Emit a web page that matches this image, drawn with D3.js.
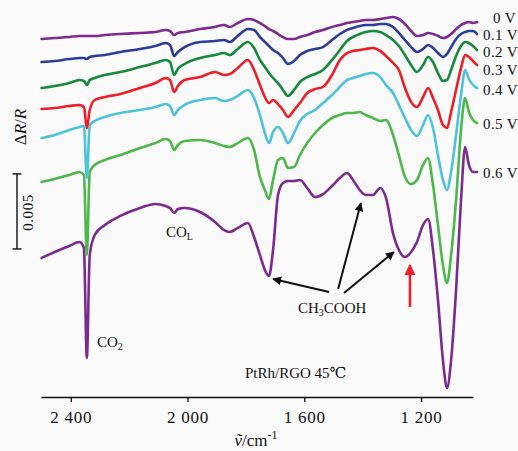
<!DOCTYPE html>
<html><head><meta charset="utf-8">
<script src="https://cdn.jsdelivr.net/npm/d3@7/dist/d3.min.js"></script>
<style>
html,body{margin:0;padding:0;background:#fafafa;}
svg{display:block;}
text{font-family:"Liberation Serif","Times New Roman","DejaVu Serif",serif;fill:#111;}
</style></head><body>
<svg id="chart" width="518" height="451"></svg>
<script>
// Wavenumber grid (cm^-1) shared by all spectra
const wavenumbers = [2500,2455,2405,2370,2355,2345,2335,2318,2283,2230,2163,2110,2075,2060,2046,2033,2010,1957,1906,1875,1855,1828,1793,1772,1752,1735,1721,1707,1690,1673,1656,1635,1615,1590,1563,1536,1505,1478,1454,1433,1410,1390,1365,1340,1320,1296,1276,1255,1234,1214,1193,1176,1159,1142,1125,1111,1097,1080,1063,1049,1036,1022,1008];

// Potentials
const potentials = ["0 V","0.1 V","0.2 V","0.3 V","0.4 V","0.5 V","0.6 V"];

// Stacked ΔR/R spectra, in units of 1e-3
const dr0V  = [23.87,23.93,24.00,24.07,24.07,24.07,24.07,24.07,24.13,24.20,24.27,24.33,24.47,24.40,24.13,24.27,24.33,24.53,24.67,24.80,24.67,24.93,25.20,25.13,24.93,24.73,24.53,24.40,24.20,24.00,23.87,23.87,24.00,24.13,24.33,24.47,24.67,24.80,24.93,25.00,25.07,25.13,25.13,25.20,25.27,25.33,25.20,24.87,24.40,24.07,24.13,24.27,24.20,24.07,23.93,24.00,24.20,24.53,24.80,24.93,25.00,24.93,25.00];
const dr01V = [22.33,22.40,22.53,22.60,22.60,22.53,22.67,22.73,22.80,23.00,23.20,23.40,23.60,23.47,22.73,23.00,23.33,23.67,23.73,23.80,23.67,24.07,24.53,24.47,24.00,23.67,23.40,23.13,22.93,22.60,22.20,22.40,22.80,23.07,23.20,23.33,23.80,24.20,24.47,24.60,24.73,24.80,24.80,24.87,24.87,24.67,24.27,23.80,23.33,23.00,23.20,23.47,23.27,22.93,22.67,22.87,23.33,23.87,24.20,24.33,24.40,24.40,24.20];
const dr02V = [20.60,20.73,20.93,21.13,21.07,20.80,21.13,21.27,21.47,21.67,22.00,22.27,22.47,22.33,21.47,21.87,22.20,22.60,22.80,22.93,22.80,23.20,23.67,23.27,22.47,22.00,21.60,21.27,20.93,20.47,20.07,20.47,21.00,21.33,21.53,21.80,22.47,23.13,23.73,24.00,24.20,24.33,24.40,24.33,24.13,23.80,23.40,22.80,22.13,21.67,22.13,22.67,22.33,21.60,21.07,21.13,21.80,22.73,23.40,23.67,23.60,23.40,23.13];
const dr03V = [19.20,19.27,19.40,19.47,19.33,17.93,19.13,19.80,20.00,20.20,20.60,20.93,21.27,21.13,20.33,20.73,21.13,21.33,21.67,21.47,21.53,21.93,22.47,21.80,20.80,20.00,19.60,19.80,19.53,19.13,18.67,19.13,19.60,20.27,20.53,20.67,21.47,22.47,22.93,23.07,23.13,23.20,23.27,23.07,22.73,22.27,21.80,20.60,19.67,19.33,20.00,20.60,19.93,19.13,18.13,17.93,19.00,20.47,21.93,22.80,22.67,22.40,22.13];
const dr04V = [17.27,17.47,17.80,18.00,18.07,14.60,18.13,18.40,18.67,18.93,19.13,19.33,19.53,19.40,18.80,19.13,19.47,19.80,19.93,19.73,19.80,20.07,20.47,19.93,18.80,17.60,16.93,17.67,18.00,17.60,16.93,17.60,18.40,18.87,19.13,19.60,20.13,20.67,21.13,21.27,21.40,21.53,21.60,21.33,20.80,20.27,19.47,18.60,17.80,17.40,18.13,18.80,17.93,16.13,14.47,13.80,15.00,17.47,20.13,21.80,21.20,20.80,20.60];
const dr05V = [14.33,14.53,14.80,15.00,14.80,9.47,15.00,15.47,15.80,16.13,16.60,16.93,17.20,17.07,16.47,16.80,17.07,17.13,16.93,16.73,16.67,16.93,17.27,16.47,14.67,13.80,13.20,14.47,15.80,15.93,15.27,15.33,16.13,16.93,17.60,18.13,18.60,18.80,18.93,18.93,19.00,18.80,18.60,18.40,18.47,17.47,16.13,14.67,14.20,14.47,15.47,15.93,14.13,11.47,8.80,7.60,9.47,13.13,17.80,19.93,19.00,18.47,18.27];
const dr06V = [9.27,9.67,10.07,10.33,9.93,2.60,9.47,10.80,11.47,12.07,12.60,12.87,12.73,12.60,12.27,12.53,12.60,12.33,11.67,11.13,11.00,11.27,11.60,10.67,9.47,8.47,8.07,9.80,13.47,14.27,14.40,14.40,14.47,13.93,13.33,13.53,14.07,14.60,14.93,14.47,13.80,13.47,13.47,13.93,13.27,10.93,9.80,9.33,9.67,10.33,11.47,11.87,9.80,6.47,2.47,0.60,2.47,7.13,13.13,16.67,15.47,15.00,15.00];

const seriesValues = [dr0V, dr01V, dr02V, dr03V, dr04V, dr05V, dr06V];
const seriesColors = ["#7d2b8f","#2c3b9c","#158a3c","#ee1d26","#4cc2dc","#4db749","#7b2a8e"];

const xTicks = [2400, 2000, 1600, 1200];
const scaleBarBase = 9.87, scaleBarSpan = 5;   // 0.005 = 5 ×1e-3

// Annotation arrows: [from wavenumber, from value, to wavenumber, to value]
const acidArrows = [[1515, 7.0, 1707, 7.87],[1484, 7.2, 1406, 12.93],[1464, 6.93, 1293, 9.67]];
const markerArrow = [1238, 6.0, 1238, 8.8];

const svg = d3.select("#chart");
const x = d3.scaleLinear().domain([2502, 1022]).range([41, 473]);
const y = d3.scaleLinear().domain([0, 25.6]).range([397, 13]);

svg.append("rect").attr("width", 518).attr("height", 451).attr("fill", "#fafafa");

// Spectra, drawn bottom-up so upper traces sit on top
const line = d3.line().x((d, i) => x(wavenumbers[i])).y(d => y(d)).curve(d3.curveMonotoneX);
const order = d3.range(seriesValues.length).reverse();
svg.append("g").selectAll("path").data(order).join("path")
  .attr("d", i => line(seriesValues[i]))
  .attr("fill", "none")
  .attr("stroke", i => seriesColors[i])
  .attr("stroke-width", 2.6)
  .attr("stroke-linejoin", "round")
  .attr("stroke-linecap", "round");

// Potential labels
const labelPos = [[493, 23], [483, 40], [483, 57], [483, 75], [483, 95], [483, 129], [483, 178]];
svg.append("g").selectAll("text").data(potentials).join("text")
  .attr("x", (d, i) => labelPos[i][0]).attr("y", (d, i) => labelPos[i][1])
  .attr("font-size", 15).attr("letter-spacing", 0.4).text(d => d);

// X axis
const xAxis = d3.axisBottom(x).tickValues(xTicks).tickSize(5).tickSizeOuter(0).tickPadding(9)
  .tickFormat(d => d3.format(",")(d).replace(",", " "));
const gx = svg.append("g").attr("transform", "translate(0,397)").call(xAxis);
gx.select(".domain").attr("stroke", "#111").attr("stroke-width", 1.3);
gx.selectAll(".tick line").attr("stroke", "#111").attr("stroke-width", 1.3);
gx.selectAll(".tick text").attr("font-size", 17).attr("font-family", "Liberation Serif, serif")
  .attr("fill", "#111").attr("letter-spacing", 0.8);

// X axis title
const xt = svg.append("text").attr("x", 256).attr("y", 446).attr("text-anchor", "middle").attr("font-size", 17);
xt.append("tspan").attr("font-style", "italic").text("ṽ");
xt.append("tspan").text("/cm");
xt.append("tspan").attr("font-size", 12).attr("dy", -7).text("-1");

// Y label
const yl = svg.append("text").attr("transform", "translate(26,127) rotate(-90)").attr("text-anchor", "middle").attr("font-size", 17);
yl.append("tspan").text("Δ");
yl.append("tspan").attr("font-style", "italic").text("R");
yl.append("tspan").text("/");
yl.append("tspan").attr("font-style", "italic").text("R");

// Scale bar
const sb = svg.append("g").attr("stroke", "#111").attr("stroke-width", 1.4);
sb.append("line").attr("x1", 17).attr("x2", 17).attr("y1", y(scaleBarBase)).attr("y2", y(scaleBarBase + scaleBarSpan));
sb.append("line").attr("x1", 12.5).attr("x2", 21.5).attr("y1", y(scaleBarBase)).attr("y2", y(scaleBarBase));
sb.append("line").attr("x1", 12.5).attr("x2", 21.5).attr("y1", y(scaleBarBase + scaleBarSpan)).attr("y2", y(scaleBarBase + scaleBarSpan));
svg.append("text").attr("transform", `translate(33,${y(scaleBarBase + scaleBarSpan / 2) + 1}) rotate(-90)`)
  .attr("text-anchor", "middle").attr("font-size", 15).attr("letter-spacing", 0.6).text("0.005");

// Band labels
function subLabel(px, py, main, sub, extra) {
  const t = svg.append("text").attr("x", px).attr("y", py).attr("font-size", 15);
  t.append("tspan").text(main);
  t.append("tspan").attr("font-size", 10).attr("dy", 3).text(sub);
  if (extra) t.append("tspan").attr("dy", -3).text(extra);
  return t;
}
subLabel(166, 237, "CO", "L");
subLabel(97, 347, "CO", "2");
subLabel(298, 313, "CH", "3", "COOH");
svg.append("text").attr("x", 245).attr("y", 378).attr("font-size", 15).text("PtRh/RGO 45℃");

// Arrows
const defs = svg.append("defs");
function marker(id, color) {
  defs.append("marker").attr("id", id).attr("viewBox", "0 0 10 10").attr("refX", 9).attr("refY", 5)
    .attr("markerWidth", 4.5).attr("markerHeight", 4.5).attr("orient", "auto")
    .append("path").attr("d", "M0,0L10,5L0,10Z").attr("fill", color);
}
marker("ah-black", "#111");
marker("ah-red", "#ee1d26");
svg.append("g").selectAll("line").data(acidArrows).join("line")
  .attr("x1", d => x(d[0])).attr("y1", d => y(d[1]))
  .attr("x2", d => x(d[2])).attr("y2", d => y(d[3]))
  .attr("stroke", "#111").attr("stroke-width", 2).attr("marker-end", "url(#ah-black)");
svg.append("line")
  .attr("x1", x(markerArrow[0])).attr("y1", y(markerArrow[1]))
  .attr("x2", x(markerArrow[2])).attr("y2", y(markerArrow[3]))
  .attr("stroke", "#ee1d26").attr("stroke-width", 2.5).attr("marker-end", "url(#ah-red)");
</script>
</body></html>
